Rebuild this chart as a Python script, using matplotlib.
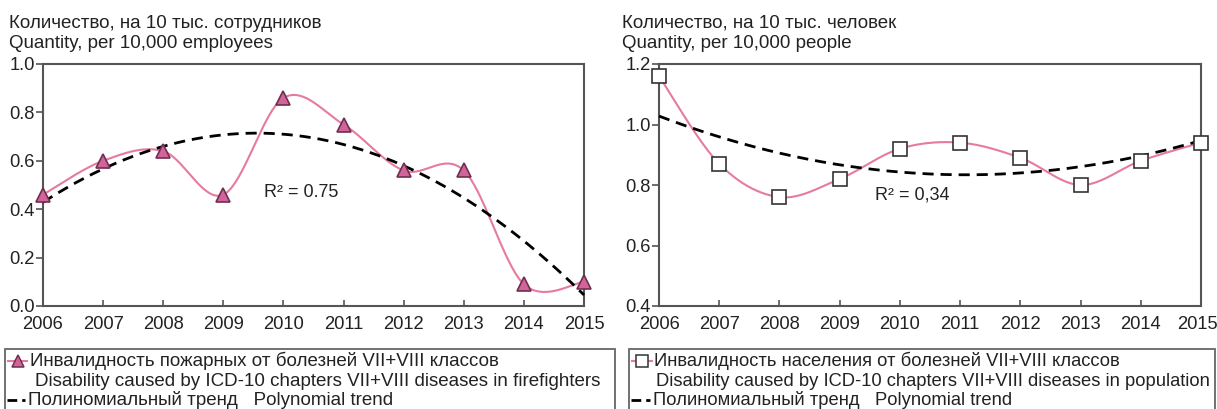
import numpy as np
import matplotlib
matplotlib.use("Agg")
import matplotlib.pyplot as plt
from matplotlib.lines import Line2D
from matplotlib.patches import Rectangle
from matplotlib.transforms import ScaledTranslation

plt.rcParams['font.family'] = ['Liberation Sans', 'DejaVu Sans']

# ---- data ----
years = [2006, 2007, 2008, 2009, 2010, 2011, 2012, 2013, 2014, 2015]
firefighters = [0.46, 0.60, 0.64, 0.46, 0.86, 0.75, 0.56, 0.56, 0.09, 0.10]
population = [1.16, 0.87, 0.76, 0.82, 0.92, 0.94, 0.89, 0.80, 0.88, 0.94]

left_title = ["Количество, на 10 тыс. сотрудников", "Quantity, per 10,000 employees"]
right_title = ["Количество, на 10 тыс. человек", "Quantity, per 10,000 people"]
left_r2 = "R² = 0.75"
right_r2 = "R² = 0,34"
left_legend = ["Инвалидность пожарных от болезней VII+VIII классов",
               "Disability caused by ICD-10 chapters VII+VIII diseases in firefighters"]
right_legend = ["Инвалидность населения от болезней VII+VIII классов",
                "Disability caused by ICD-10 chapters VII+VIII diseases in population"]
trend_label = "Полиномиальный тренд   Polynomial trend"

PINK = "#e67aa0"
TXT = "#222222"
FS = 13.5
W, H = 1217, 409


def smooth(x, y, n=40):
    """Catmull-Rom style Bezier smoothing through every point."""
    x = np.asarray(x, float)
    y = np.asarray(y, float)
    P = np.column_stack([x, y])
    Pe = np.vstack([P[0], P, P[-1]])
    out = []
    t = np.linspace(0, 1, n)[:, None]
    for i in range(len(P) - 1):
        p0, p3 = Pe[i + 1], Pe[i + 2]
        c1 = p0 + (Pe[i + 2] - Pe[i]) / 6.0
        c2 = p3 - (Pe[i + 3] - Pe[i + 1]) / 6.0
        seg = ((1 - t) ** 3) * p0 + 3 * ((1 - t) ** 2) * t * c1 + 3 * (1 - t) * t ** 2 * c2 + t ** 3 * p3
        out.append(seg if i == 0 else seg[1:])
    seg = np.vstack(out)
    return seg[:, 0], seg[:, 1]


def fx(px):
    return px / W


def fy(py):
    return 1 - py / H


fig = plt.figure(figsize=(W / 100, H / 100), dpi=100)

ax1 = fig.add_axes([fx(43), fy(306), (584 - 43) / W, (306 - 64) / H])
ax2 = fig.add_axes([fx(659), fy(306), (1201 - 659) / W, (306 - 64) / H])


def draw(ax, vals, marker, mfc, mec, ylim, yticks, r2, r2pos):
    xs = np.array(years, float)
    sx, sy = smooth(xs, vals)
    ax.plot(sx, sy, color=PINK, lw=1.5, zorder=2, clip_on=False)
    coef = np.polyfit(xs - xs[0], vals, 2)
    tx = np.linspace(xs[0], xs[-1], 200)
    ax.plot(tx, np.polyval(coef, tx - xs[0]), color="black", lw=2.0,
            dashes=(4, 2.5), zorder=3, clip_on=False)
    ax.plot(xs, vals, ls="none", marker=marker, ms=10.5 if marker == "^" else 9.5,
            mfc=mfc, mec=mec, mew=1.2, zorder=4, clip_on=False)
    ax.set_xlim(years[0], years[-1])
    ax.set_ylim(*ylim)
    ax.set_xticks(years)
    ax.set_yticks(yticks)
    ax.set_yticklabels([f"{v:.1f}" for v in yticks])
    for s in ax.spines.values():
        s.set_color("#555555")
        s.set_linewidth(1.5)
    ax.tick_params(axis="x", direction="in", length=4, width=1.2, color="#555555",
                   labelsize=13.2, pad=7, labelcolor=TXT)
    ax.tick_params(axis="y", direction="out", length=5, width=1.2, color="#555555",
                   labelsize=13.2, pad=1, labelcolor=TXT)
    ax.text(r2pos[0], r2pos[1], r2, fontsize=13, ha="center", va="center", color=TXT)


draw(ax1, firefighters, "^", "#d2649a", "#6e3050", (0.0, 1.0), [0.0, 0.2, 0.4, 0.6, 0.8, 1.0],
     left_r2, (2010.3, 0.47))
draw(ax2, population, "s", "white", "#333333", (0.4, 1.2), [0.4, 0.6, 0.8, 1.0, 1.2],
     right_r2, (2010.2, 0.767))

# keep the last year label of the right panel inside the canvas
last = ax2.get_xticklabels()[-1]
last.set_transform(last.get_transform() + ScaledTranslation(-4 / 100, 0, fig.dpi_scale_trans))

# axis captions above each panel
for x0, lines in ((9, left_title), (622, right_title)):
    fig.text(fx(x0), fy(23), lines[0], fontsize=FS, va="center", ha="left", color=TXT)
    fig.text(fx(x0), fy(43), lines[1], fontsize=FS, va="center", ha="left", color=TXT)


def legend_box(x0, x1, marker, mfc, mec, labels, txt_x, txt2_x, hx0, hx1, fs):
    fig.add_artist(Rectangle((fx(x0), fy(412)), (x1 - x0) / W, (412 - 349) / H,
                             transform=fig.transFigure, fill=False,
                             edgecolor="#666666", lw=1.3))
    y1, y2, y3 = 361, 381, 400
    fig.add_artist(Line2D([fx(hx0), fx(hx1)], [fy(y1), fy(y1)], transform=fig.transFigure,
                          color=PINK, lw=1.5))
    fig.add_artist(Line2D([fx((hx0 + hx1) / 2)], [fy(y1)], transform=fig.transFigure,
                          marker=marker, ms=8, mfc=mfc, mec=mec, mew=1.1, ls="none"))
    fig.add_artist(Line2D([fx(hx0 - 1), fx(hx1 - 2)], [fy(y3), fy(y3)], transform=fig.transFigure,
                          color="black", lw=2.0, dashes=(3.5, 1.8)))
    fig.text(fx(txt_x), fy(y1), labels[0], fontsize=fs, va="center", ha="left", color=TXT)
    fig.text(fx(txt2_x), fy(y2), labels[1], fontsize=fs, va="center", ha="left", color=TXT)
    fig.text(fx(hx1 + 1), fy(y3), trend_label, fontsize=fs, va="center", ha="left", color=TXT)


legend_box(5, 615, "^", "#d2649a", "#6e3050", left_legend, 30, 35, 8, 27, 13.5)
legend_box(629, 1215, "s", "white", "#333333", right_legend, 654, 656, 632, 652, 13.2)

fig.savefig("out.png", dpi=100)
